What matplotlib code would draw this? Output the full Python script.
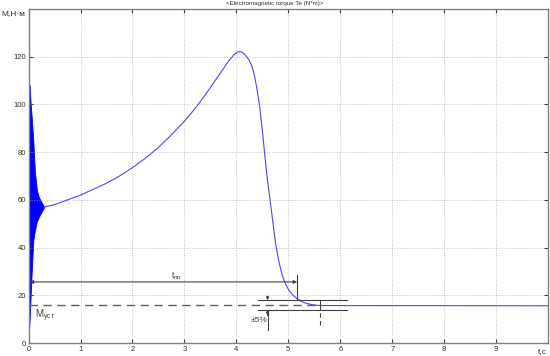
import matplotlib
matplotlib.use("Agg")
import matplotlib.pyplot as plt

plt.rcParams['font.family'] = ['Liberation Sans', 'DejaVu Sans']

# start-up oscillation band (upper / lower envelope)
t_env = [0.0, 0.02, 0.04, 0.06, 0.09, 0.12, 0.16, 0.2, 0.25, 0.3]
env_hi = [109, 108, 100, 94.6, 85, 72, 64, 61, 59, 57]
env_lo = [3, 10, 20, 30, 43, 47, 51, 53, 55, 57]

# electromagnetic torque after start-up
t_main = [0.3, 0.5, 0.75, 1.0, 1.25, 1.5, 1.75, 2.0, 2.25, 2.5, 2.75, 3.0,
          3.2, 3.4, 3.6, 3.75, 3.85, 3.95, 4.02, 4.07, 4.12, 4.18, 4.24,
          4.3, 4.35, 4.4, 4.45, 4.5, 4.55, 4.6, 4.65, 4.7, 4.76, 4.82, 4.88,
          4.95, 5.02, 5.1, 5.18, 5.26, 5.35, 5.45, 5.6, 10.0]
m_main = [57, 58, 60, 62, 64.5, 67, 70, 73.5, 77.5, 82, 87.3, 93,
          98.2, 104, 110.3, 115, 118.2, 120.8, 122, 122.2, 121.8, 120.5, 118.8,
          116, 112, 106, 99, 89, 78, 68, 59.7, 51, 41, 34, 28.5,
          24.5, 21.8, 19.8, 18.4, 17.3, 16.6, 16.1, 15.7, 15.6]

# annotation values
m_ust = 15.8          # steady-state torque
band_hi, band_lo = 17.9, 14.0   # +-5% band
t_pp = 5.17           # transient time
y_tpp = 25.6
x_ticks = [0, 1, 2, 3, 4, 5, 6, 7, 8, 9]
y_ticks = [0, 20, 40, 60, 80, 100, 120]

fig = plt.figure(figsize=(5.5, 3.56), dpi=100)
ax = fig.add_axes([0.052, 0.0365, 0.9445, 0.938])

ax.fill_between(t_env, env_lo, env_hi, color='#0000ff', lw=0.6)
ax.plot(t_main, m_main, color='#4a4aec', lw=0.8)

ink = '#404040'
# steady-state dashed line and label
ax.plot([0, 5.6], [m_ust, m_ust], color='#606060', lw=1.0, ls=(0, (6, 4)))
ax.text(0.12, 11.5, r'M$_{\mathregular{уст}}$', fontsize=7, color=ink,
        ha='left', va='center')

# transient time arrow
ax.annotate('', xy=(0.02, y_tpp), xytext=(t_pp, y_tpp),
            arrowprops=dict(arrowstyle='<|-|>', lw=0.8, color=ink,
                            mutation_scale=5, shrinkA=0, shrinkB=0))
ax.plot([t_pp, t_pp], [band_hi, 28.4], color=ink, lw=0.8)
ax.text(2.85, 28.0, r't$_{\mathregular{пп}}$', fontsize=6.5, color=ink,
        ha='center', va='center')

# +-5% band
ax.plot([4.42, 6.12], [band_hi, band_hi], color=ink, lw=0.8)
ax.plot([4.42, 6.12], [band_lo, band_lo], color=ink, lw=0.8)
ax.plot([4.6, 4.6], [band_lo, 5.4], color=ink, lw=0.8)
ax.annotate('', xy=(4.6, band_hi), xytext=(4.6, 19.6),
            arrowprops=dict(arrowstyle='-|>', lw=0.8, color=ink,
                            mutation_scale=4, shrinkA=0, shrinkB=0))
ax.annotate('', xy=(4.6, band_lo), xytext=(4.6, 11.5),
            arrowprops=dict(arrowstyle='-|>', lw=0.8, color=ink,
                            mutation_scale=4, shrinkA=0, shrinkB=0))
ax.text(4.43, 9.5, '±5%', fontsize=6, color=ink, ha='center', va='center')
ax.plot([5.61, 5.61], [band_hi, m_ust], color=ink, lw=0.8)
ax.plot([5.61, 5.61], [m_ust, 6.5], color=ink, lw=0.8, ls=(0, (4, 3)))

ax.set_xlim(0, 10)
ax.set_ylim(0, 140)
ax.set_xticks(x_ticks)
ax.set_yticks(y_ticks)
ax.set_xticks([10], minor=True)
ax.set_yticks([140], minor=True)
ax.grid(True, ls=(0, (1, 2)), color='#b0b0b0', lw=0.6)
ax.tick_params(direction='in', top=True, right=True, labelsize=5.5,
               length=3, width=0.8, color='#404040', labelcolor='#303030', pad=2)
ax.tick_params(which='minor', length=0)
for s in ax.spines.values():
    s.set_color('#808080')
    s.set_linewidth(1.0)

fig.text(0.003, 0.963, 'М,Н·м', fontsize=6, color='#303030', ha='left', va='center')
fig.text(0.978, 0.013, 't,c', fontsize=6, color='#303030', ha='left', va='center')
fig.text(0.5, 0.99, '<Electromagnetic torque Te (N*m)>', fontsize=4.5,
         color='#303030', ha='center', va='center')

fig.savefig('out.png', dpi=100)
